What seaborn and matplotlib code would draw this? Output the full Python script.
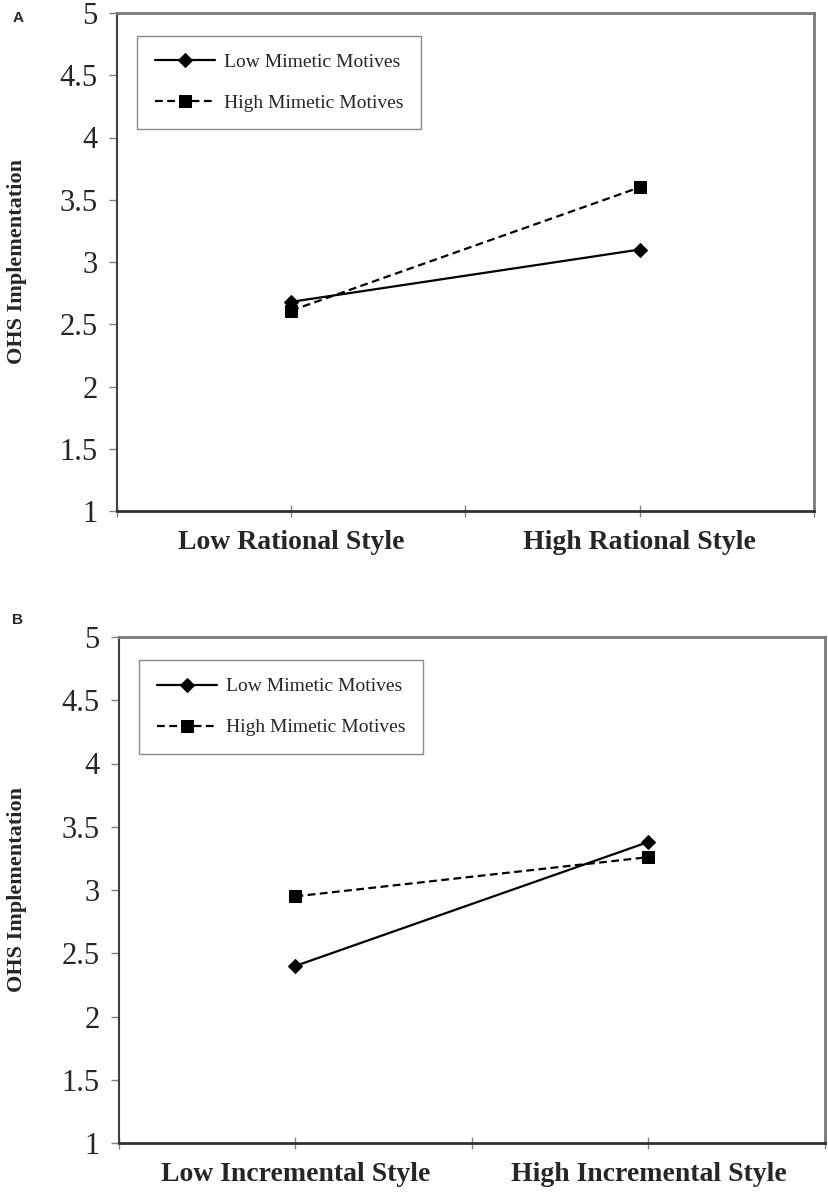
import matplotlib
matplotlib.use("Agg")
import matplotlib.pyplot as plt
import seaborn as sns

sns.set_theme(style="white")
plt.rcParams['font.family'] = ['Liberation Serif', 'DejaVu Serif']

# ---- data ----
motives = ['Low Mimetic Motives', 'High Mimetic Motives']

styles_a = ['Low Rational Style', 'High Rational Style']
low_mm_a = [2.68, 3.10]
high_mm_a = [2.61, 3.60]

styles_b = ['Low Incremental Style', 'High Incremental Style']
low_mm_b = [2.40, 3.38]
high_mm_b = [2.95, 3.26]

y_ticks = [1, 1.5, 2, 2.5, 3, 3.5, 4, 4.5, 5]
y_ticklabels = ['1', '1.5', '2', '2.5', '3', '3.5', '4', '4.5', '5']

W, H = 829, 1194
fig = plt.figure(figsize=(W / 100, H / 100), dpi=100)


def panel(rect, styles, low_vals, high_vals, letter, letter_y):
    l, t, r, b = rect
    ax = fig.add_axes([l / W, 1 - b / H, (r - l) / W, (b - t) / H])

    sns.lineplot(x=styles, y=low_vals, ax=ax, color='black', linewidth=1.6,
                 marker='D', markersize=7, markeredgecolor='black',
                 sort=False, label=motives[0])
    sns.lineplot(x=styles, y=high_vals, ax=ax, color='black', linewidth=1.6,
                 marker='s', markersize=9, markeredgecolor='black',
                 sort=False, label=motives[1])
    ax.lines[-1].set_dashes((3.5, 2))

    ax.set_xlim(-0.5, 1.5)
    ax.set_ylim(1, 5)
    ax.set_xticks([0, 1])
    ax.set_xticklabels(styles, fontsize=20, fontweight='bold')
    ax.set_xticks([-0.5, 0.5, 1.5], minor=True)
    ax.tick_params(axis='x', which='both', direction='inout', length=9,
                   width=1, color='#808080', bottom=True, pad=9)
    ax.set_yticks(y_ticks)
    ax.set_yticklabels(y_ticklabels, fontsize=22)
    ax.tick_params(axis='y', direction='out', length=6, width=1,
                   color='#808080', left=True, pad=8)
    ax.set_xlabel('')
    ax.set_ylabel('OHS Implementation', fontsize=16, fontweight='bold')
    ax.yaxis.set_label_coords(-(l - 27) / (r - l), 0.5)

    for side in ['top', 'right']:
        ax.spines[side].set_color('#7a7a7a')
        ax.spines[side].set_linewidth(2)
    ax.spines['left'].set_color('#404040')
    ax.spines['left'].set_linewidth(1.5)
    ax.spines['bottom'].set_color('#303030')
    ax.spines['bottom'].set_linewidth(2)

    leg = ax.legend(loc='upper left', bbox_to_anchor=(0.029, 0.954),
                    borderaxespad=0, fontsize=14, handlelength=3.1,
                    handletextpad=0.45, labelspacing=1.2, borderpad=0.9,
                    fancybox=False, framealpha=1, edgecolor='#8a8a8a')
    leg.get_frame().set_linewidth(1)

    fig.text(18 / W, 1 - letter_y / H, letter, fontsize=11, fontweight='bold',
             family=['Liberation Sans', 'DejaVu Sans'], ha='center', va='center')
    return ax


panel((117, 13, 814, 511), styles_a, low_mm_a, high_mm_a, 'A', 18)
panel((119, 637, 825, 1143), styles_b, low_mm_b, high_mm_b, 'B', 620)

fig.savefig('out.png', dpi=100, facecolor='white')
